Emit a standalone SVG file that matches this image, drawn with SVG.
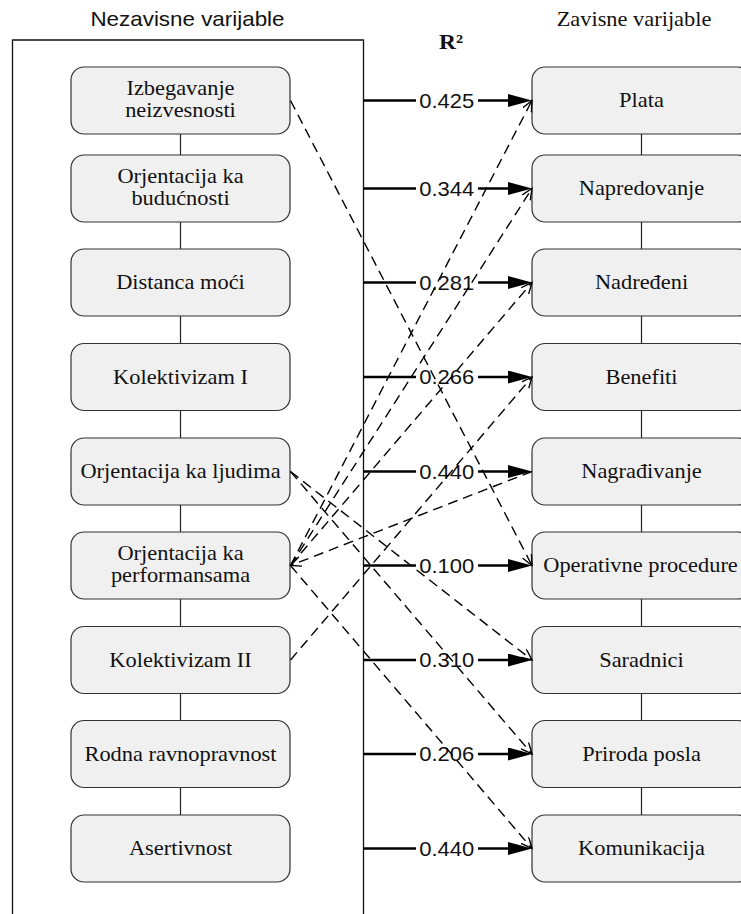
<svg xmlns="http://www.w3.org/2000/svg" width="741" height="914" viewBox="0 0 741 914">
<style>
.box{fill:#f0f0f0;stroke:#333;stroke-width:1.2}
.vl{stroke:#222;stroke-width:1.2}
.frame{fill:none;stroke:#111;stroke-width:1.3}
.sol{stroke:#000;stroke-width:2.6;fill:none}
.dash{stroke:#000;stroke-width:1.4;fill:none;stroke-dasharray:10 6}
.lbg{fill:#fff}
.t{font-family:"Liberation Serif","Times New Roman",serif;font-size:20px;text-anchor:middle;fill:#111}
.s{font-family:"Liberation Sans",Arial,sans-serif;font-size:20px;text-anchor:middle;fill:#111}
.b{font-family:"Liberation Serif","Times New Roman",serif;font-size:21px;font-weight:bold;text-anchor:middle;fill:#111}
</style>
<defs>
<marker id="fa" markerUnits="userSpaceOnUse" markerWidth="26" markerHeight="16" refX="14" refY="6.5" orient="auto">
<path d="M0,0 L24,6.5 L0,13 z" fill="#000"/>
</marker>
<marker id="oa" markerUnits="userSpaceOnUse" markerWidth="14" markerHeight="14" refX="11" refY="5" orient="auto">
<path d="M0,0 L11,5 L0,10" fill="none" stroke="#000" stroke-width="1.4"/>
</marker>
</defs>
<rect width="741" height="914" fill="#fff"/>

<g id="titles">
<text class="s" transform="translate(187.5 26) scale(1.12 1)">Nezavisne varijable</text>
<text class="t" transform="translate(634 26) scale(1.12 1)">Zavisne varijable</text>
<text class="b" transform="translate(451 49) scale(1.12 1)">R²</text>
</g>

<path id="frame" class="frame" d="M12.5,916 V40 H363.5 V916"/>

<g id="chain-lines">
<line class="vl" x1="180.5" y1="134" x2="180.5" y2="815"/>
<line class="vl" x1="641.5" y1="134" x2="641.5" y2="815"/>
</g>

<g id="left-nodes">
<g id="n-izbegavanje"><rect class="box" x="71" y="67" width="219" height="67" rx="13"/>
<text class="t" transform="translate(180.5 95) scale(1.12 1)">Izbegavanje</text>
<text class="t" transform="translate(180.5 116.5) scale(1.12 1)">neizvesnosti</text></g>
<g id="n-buducnost"><rect class="box" x="71" y="155" width="219" height="67" rx="13"/>
<text class="t" transform="translate(180.5 183) scale(1.12 1)">Orjentacija ka</text>
<text class="t" transform="translate(180.5 204.5) scale(1.12 1)">budućnosti</text></g>
<g id="n-distanca"><rect class="box" x="71" y="249" width="219" height="67" rx="13"/>
<text class="t" transform="translate(180.5 289) scale(1.12 1)">Distanca moći</text></g>
<g id="n-kolektivizam1"><rect class="box" x="71" y="343.5" width="219" height="67" rx="13"/>
<text class="t" transform="translate(180.5 383.5) scale(1.12 1)">Kolektivizam I</text></g>
<g id="n-ljudi"><rect class="box" x="71" y="438" width="219" height="67" rx="13"/>
<text class="t" transform="translate(180.5 478) scale(1.12 1)">Orjentacija ka ljudima</text></g>
<g id="n-performanse"><rect class="box" x="71" y="532" width="219" height="67" rx="13"/>
<text class="t" transform="translate(180.5 560) scale(1.12 1)">Orjentacija ka</text>
<text class="t" transform="translate(180.5 582) scale(1.12 1)">performansama</text></g>
<g id="n-kolektivizam2"><rect class="box" x="71" y="626.5" width="219" height="67" rx="13"/>
<text class="t" transform="translate(180.5 666.5) scale(1.12 1)">Kolektivizam II</text></g>
<g id="n-rodna"><rect class="box" x="71" y="720.5" width="219" height="67" rx="13"/>
<text class="t" transform="translate(180.5 760.5) scale(1.12 1)">Rodna ravnopravnost</text></g>
<g id="n-asertivnost"><rect class="box" x="71" y="815" width="219" height="67" rx="13"/>
<text class="t" transform="translate(180.5 855) scale(1.12 1)">Asertivnost</text></g>
</g>

<g id="right-nodes">
<g id="n-plata"><rect class="box" x="532" y="67" width="219" height="67" rx="13"/>
<text class="t" transform="translate(641.5 107) scale(1.12 1)">Plata</text></g>
<g id="n-napredovanje"><rect class="box" x="532" y="155" width="219" height="67" rx="13"/>
<text class="t" transform="translate(641.5 195) scale(1.12 1)">Napredovanje</text></g>
<g id="n-nadredjeni"><rect class="box" x="532" y="249" width="219" height="67" rx="13"/>
<text class="t" transform="translate(641.5 289) scale(1.12 1)">Nadređeni</text></g>
<g id="n-benefiti"><rect class="box" x="532" y="343.5" width="219" height="67" rx="13"/>
<text class="t" transform="translate(641.5 383.5) scale(1.12 1)">Benefiti</text></g>
<g id="n-nagradjivanje"><rect class="box" x="532" y="438" width="219" height="67" rx="13"/>
<text class="t" transform="translate(641.5 478) scale(1.12 1)">Nagrađivanje</text></g>
<g id="n-operativne"><rect class="box" x="532" y="532" width="219" height="67" rx="13"/>
<text class="t" transform="translate(640.5 572) scale(1.12 1)">Operativne procedure</text></g>
<g id="n-saradnici"><rect class="box" x="532" y="626.5" width="219" height="67" rx="13"/>
<text class="t" transform="translate(641.5 666.5) scale(1.12 1)">Saradnici</text></g>
<g id="n-priroda"><rect class="box" x="532" y="720.5" width="219" height="67" rx="13"/>
<text class="t" transform="translate(641.5 760.5) scale(1.12 1)">Priroda posla</text></g>
<g id="n-komunikacija"><rect class="box" x="532" y="815" width="219" height="67" rx="13"/>
<text class="t" transform="translate(641.5 855) scale(1.12 1)">Komunikacija</text></g>
</g>

<g id="connectors">
<g id="r2-arrows">
<path class="sol" marker-end="url(#fa)" d="M363.5,100.5 H522"/>
<path class="sol" marker-end="url(#fa)" d="M363.5,188.5 H522"/>
<path class="sol" marker-end="url(#fa)" d="M363.5,282.5 H522"/>
<path class="sol" marker-end="url(#fa)" d="M363.5,377 H522"/>
<path class="sol" marker-end="url(#fa)" d="M363.5,471.5 H522"/>
<path class="sol" marker-end="url(#fa)" d="M363.5,565.5 H522"/>
<path class="sol" marker-end="url(#fa)" d="M363.5,660 H522"/>
<path class="sol" marker-end="url(#fa)" d="M363.5,754 H522"/>
<path class="sol" marker-end="url(#fa)" d="M363.5,848.5 H522"/>
</g>
<g id="r2-labels">
<rect class="lbg" x="416" y="90.5" width="62" height="20"/>
<rect class="lbg" x="416" y="178.5" width="62" height="20"/>
<rect class="lbg" x="416" y="272.5" width="62" height="20"/>
<rect class="lbg" x="416" y="367" width="62" height="20"/>
<rect class="lbg" x="416" y="461.5" width="62" height="20"/>
<rect class="lbg" x="416" y="555.5" width="62" height="20"/>
<rect class="lbg" x="416" y="650" width="62" height="20"/>
<rect class="lbg" x="416" y="744" width="62" height="20"/>
<rect class="lbg" x="416" y="838.5" width="62" height="20"/>
<text class="s" transform="translate(446.8 107.5) scale(1.1 1)">0.425</text>
<text class="s" transform="translate(446.8 195.5) scale(1.1 1)">0.344</text>
<text class="s" transform="translate(446.8 289.5) scale(1.1 1)">0.281</text>
<text class="s" transform="translate(446.8 384) scale(1.1 1)">0.266</text>
<text class="s" transform="translate(446.8 478.5) scale(1.1 1)">0.440</text>
<text class="s" transform="translate(446.8 572.5) scale(1.1 1)">0.100</text>
<text class="s" transform="translate(446.8 667) scale(1.1 1)">0.310</text>
<text class="s" transform="translate(446.8 761) scale(1.1 1)">0.206</text>
<text class="s" transform="translate(446.8 855.5) scale(1.1 1)">0.440</text>
</g>
<g id="dashed-links">
<path class="dash" marker-end="url(#oa)" d="M290.5,100.5 L532,565.5"/>
<path class="dash" marker-end="url(#oa)" d="M290.5,565.5 L532,100.5"/>
<path class="dash" marker-end="url(#oa)" d="M290.5,565.5 L532,188.5"/>
<path class="dash" marker-end="url(#oa)" d="M290.5,565.5 L532,282.5"/>
<path class="dash" marker-end="url(#oa)" d="M532,471.5 L290.5,565.5"/>
<path class="dash" marker-end="url(#oa)" d="M290.5,565.5 L532,848.5"/>
<path class="dash" marker-end="url(#oa)" d="M290.5,471.5 L532,660"/>
<path class="dash" marker-end="url(#oa)" d="M290.5,471.5 L532,754"/>
<path class="dash" marker-end="url(#oa)" d="M290.5,660 L532,377"/>
</g>
</g>
</svg>
